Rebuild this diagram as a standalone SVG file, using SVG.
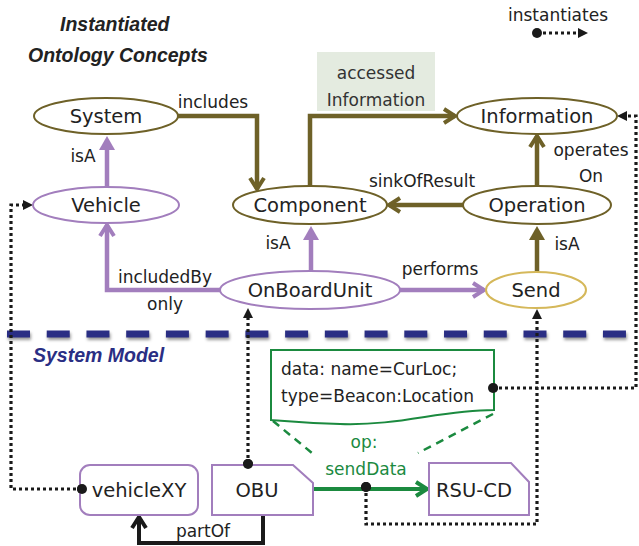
<svg xmlns="http://www.w3.org/2000/svg" width="639" height="546" viewBox="0 0 639 546">
  <style>
    .nodetext { font-family: "DejaVu Sans", sans-serif; font-size: 19.5px; fill: #222; text-anchor: middle; }
    .lbl { font-family: "DejaVu Sans", sans-serif; font-size: 17px; fill: #222; text-anchor: middle; }
    .glbl { font-family: "DejaVu Sans", sans-serif; font-size: 17px; fill: #1b8a3f; text-anchor: middle; }
    .title { font-family: "Liberation Sans", Arial, sans-serif; font-size: 19.5px; font-weight: bold; font-style: italic; fill: #222; }
    .olive { fill: #fff; stroke: #6e6128; stroke-width: 2; }
    .purple { fill: #fff; stroke: #a27ebd; stroke-width: 2; }
    .gold { fill: #fff; stroke: #d5b85a; stroke-width: 2; }
    .c-olive { fill: none; stroke: #6e6128; stroke-width: 4.5; }
    .c-purple { fill: none; stroke: #a27ebd; stroke-width: 4.5; }
    .c-green { fill: none; stroke: #1b8a3f; stroke-width: 4; }
    .c-black { fill: none; stroke: #1a1a1a; stroke-width: 4; }
    .dots { fill: none; stroke: #1a1a1a; stroke-width: 3.2; stroke-dasharray: 3 3; marker-start: url(#dot); marker-end: url(#tri-black); }
    .sep { fill: none; stroke-width: 7; stroke-dasharray: 23 16.73; }
  </style>
  <defs>
    <marker id="chev-olive" markerUnits="userSpaceOnUse" markerWidth="16" markerHeight="18" refX="12" refY="8" orient="auto" overflow="visible">
      <path d="M1,1 L12,8 L1,15" fill="none" stroke="#6e6128" stroke-width="4" stroke-linejoin="miter"/>
    </marker>
    <marker id="chev-purple" markerUnits="userSpaceOnUse" markerWidth="16" markerHeight="18" refX="12" refY="8" orient="auto" overflow="visible">
      <path d="M1,1 L12,8 L1,15" fill="none" stroke="#a27ebd" stroke-width="4"/>
    </marker>
    <marker id="chev-green" markerUnits="userSpaceOnUse" markerWidth="16" markerHeight="18" refX="12" refY="8" orient="auto" overflow="visible">
      <path d="M1,1 L12,8 L1,15" fill="none" stroke="#1b8a3f" stroke-width="4"/>
    </marker>
    <marker id="chev-black" markerUnits="userSpaceOnUse" markerWidth="16" markerHeight="18" refX="12" refY="8" orient="auto" overflow="visible">
      <path d="M1,1 L12,8 L1,15" fill="none" stroke="#1a1a1a" stroke-width="4"/>
    </marker>
    <marker id="isa-purple" markerUnits="userSpaceOnUse" markerWidth="14" markerHeight="16" refX="7" refY="8" orient="auto" overflow="visible">
      <path d="M0,0 L14,8 L0,16 Z" fill="#a27ebd"/>
    </marker>
    <marker id="isa-olive" markerUnits="userSpaceOnUse" markerWidth="14" markerHeight="16" refX="7" refY="8" orient="auto" overflow="visible">
      <path d="M0,0 L14,8 L0,16 Z" fill="#6e6128"/>
    </marker>
    <marker id="tri-black" markerUnits="userSpaceOnUse" markerWidth="10" markerHeight="10" refX="5" refY="5" orient="auto" overflow="visible">
      <path d="M0,0 L10,5 L0,10 Z" fill="#1a1a1a"/>
    </marker>
    <marker id="dot" markerUnits="userSpaceOnUse" markerWidth="12" markerHeight="12" refX="6" refY="6" overflow="visible">
      <circle cx="6" cy="6" r="5" fill="#1a1a1a"/>
    </marker>
    <filter id="soft" filterUnits="userSpaceOnUse" x="0" y="320" width="639" height="30">
      <feGaussianBlur stdDeviation="1.4"/>
    </filter>
  </defs>

  <!-- headings -->
  <text class="title" x="60" y="31">Instantiated</text>
  <text class="title" x="28" y="62">Ontology Concepts</text>
  <text class="title" x="33" y="362" style="fill:#2a2e84">System Model</text>

  <!-- legend -->
  <g id="legend">
    <text class="lbl" x="558" y="21">instantiates</text>
    <path class="dots" d="M537,33 H583"/>
  </g>

  <!-- label box on the accessed-information relation -->
  <g id="accessedInformationLabel">
    <rect x="317" y="52" width="118" height="59" fill="#e4ebe0"/>
    <text class="lbl" x="376" y="79" style="fill:#333">accessed</text>
    <text class="lbl" x="376" y="106" style="fill:#333">Information</text>
  </g>

  <!-- separator between ontology and system model, with a soft shadow -->
  <line class="sep" x1="8" y1="336.5" x2="628" y2="336.5" stroke="#000" stroke-opacity="0.4" filter="url(#soft)"/>
  <line class="sep" x1="7" y1="334" x2="627" y2="334" stroke="#2a2e84"/>

  <!-- ontology relations -->
  <g id="connectors">
    <path class="c-olive" d="M178,116 H257 V189" marker-end="url(#chev-olive)"/>
    <path class="c-olive" d="M310,186 V116 H455" marker-end="url(#chev-olive)"/>
    <path class="c-olive" d="M463,205 H389" marker-end="url(#chev-olive)"/>
    <path class="c-olive" d="M537,186 V136" marker-end="url(#chev-olive)"/>
    <path class="c-olive" d="M537,272 V233" marker-end="url(#isa-olive)"/>
    <path class="c-purple" d="M107,187 V143" marker-end="url(#isa-purple)"/>
    <path class="c-purple" d="M311,271 V233" marker-end="url(#isa-purple)"/>
    <path class="c-purple" d="M220,290 H107 V225" marker-end="url(#chev-purple)"/>
    <path class="c-purple" d="M400,290 H484" marker-end="url(#chev-purple)"/>

    <!-- system model relations -->
    <path class="c-green" d="M313,489 H427" marker-end="url(#chev-green)"/>
    <path class="c-black" d="M263,515 V543 H139 V517" marker-end="url(#chev-black)"/>
    <path d="M273,421 L312,453" fill="none" stroke="#1b8a3f" stroke-width="2.5" stroke-dasharray="8 6"/>
    <path d="M493,414 L418,453" fill="none" stroke="#1b8a3f" stroke-width="2.5" stroke-dasharray="8 6"/>

    <!-- instantiation links -->
    <path class="dots" d="M82,489 H11 V205 H28"/>
    <path class="dots" d="M248,464 V313"/>
    <path class="dots" d="M366,487 V524 H537 V314"/>
    <path class="dots" d="M493,388 H636 V116 H622"/>

    <!-- relation labels -->
    <text class="lbl" x="213" y="108">includes</text>
    <text class="lbl" x="83" y="162">isA</text>
    <text class="lbl" x="591" y="156">operates</text>
    <text class="lbl" x="591" y="182">On</text>
    <text class="lbl" x="422" y="187">sinkOfResult</text>
    <text class="lbl" x="278" y="249">isA</text>
    <text class="lbl" x="567" y="250">isA</text>
    <text class="lbl" x="165" y="283">includedBy</text>
    <text class="lbl" x="165" y="310">only</text>
    <text class="lbl" x="440" y="275">performs</text>
    <text class="lbl" x="203" y="537">partOf</text>
    <text class="glbl" x="364" y="448">op:</text>
    <text class="glbl" x="366" y="475">sendData</text>
  </g>

  <!-- ontology concepts -->
  <g id="System">
    <ellipse class="olive" cx="106" cy="116" rx="72" ry="18"/>
    <text class="nodetext" x="106" y="123">System</text>
  </g>
  <g id="Information">
    <ellipse class="olive" cx="537" cy="116" rx="80" ry="18"/>
    <text class="nodetext" x="537" y="123">Information</text>
  </g>
  <g id="Vehicle">
    <ellipse class="purple" cx="106" cy="205" rx="73" ry="18"/>
    <text class="nodetext" x="106" y="212">Vehicle</text>
  </g>
  <g id="Component">
    <ellipse class="olive" cx="310" cy="205" rx="77" ry="19"/>
    <text class="nodetext" x="310" y="212">Component</text>
  </g>
  <g id="Operation">
    <ellipse class="olive" cx="537" cy="205" rx="74" ry="19"/>
    <text class="nodetext" x="537" y="212">Operation</text>
  </g>
  <g id="OnBoardUnit">
    <ellipse class="purple" cx="310" cy="290" rx="90" ry="19"/>
    <text class="nodetext" x="310" y="297">OnBoardUnit</text>
  </g>
  <g id="Send">
    <ellipse class="gold" cx="536" cy="290" rx="50" ry="18"/>
    <text class="nodetext" x="536" y="297">Send</text>
  </g>

  <!-- system model elements -->
  <g id="dataNote">
    <path d="M271,350 H494 V410 C440,410 400,426 340,424 C300,423 285,421 271,420 Z" fill="#fff" stroke="#1b8a3f" stroke-width="2"/>
    <text class="lbl" x="281" y="375" style="text-anchor:start">data: name=CurLoc;</text>
    <text class="lbl" x="281" y="402" style="text-anchor:start">type=Beacon:Location</text>
  </g>
  <g id="vehicleXY">
    <rect class="purple" x="80" y="465" width="118" height="50" rx="10"/>
    <text class="nodetext" x="139" y="497">vehicleXY</text>
  </g>
  <g id="OBU">
    <path class="purple" d="M212,465 H293 L313,483 V515 H212 Z"/>
    <text class="nodetext" x="257" y="497">OBU</text>
  </g>
  <g id="RSU-CD">
    <path class="purple" d="M429,463 H511 L529,482 V515 H429 Z"/>
    <text class="nodetext" x="474" y="497">RSU-CD</text>
  </g>

  <!-- link end dots drawn above the node outlines -->
  <circle cx="82" cy="489" r="5" fill="#1a1a1a"/>
  <circle cx="248" cy="464" r="5" fill="#1a1a1a"/>
  <circle cx="366" cy="487" r="5" fill="#1a1a1a"/>
  <circle cx="493" cy="388" r="5" fill="#1a1a1a"/>
</svg>
